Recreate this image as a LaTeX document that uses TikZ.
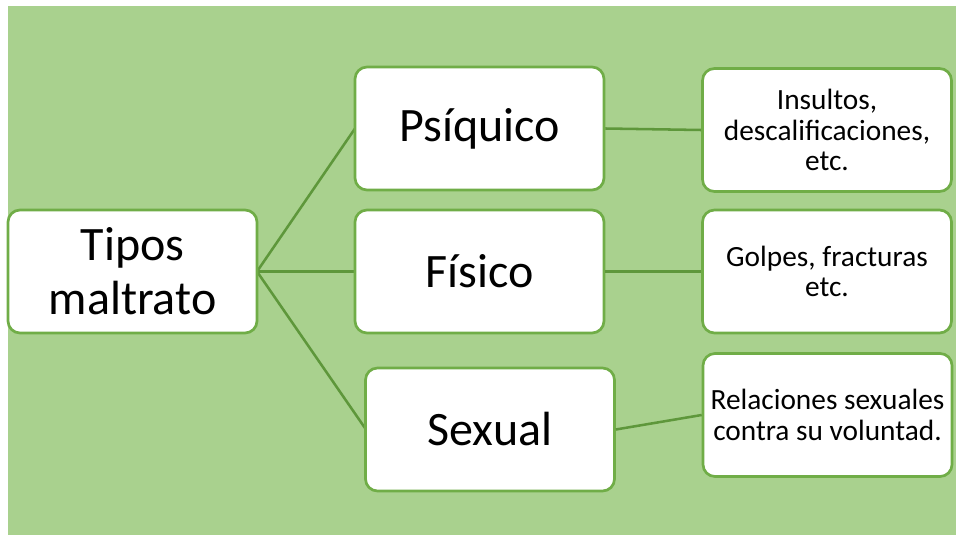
\documentclass[tikz,border=0pt]{standalone}
\usepackage{fontspec}
\setmainfont{Carlito}
\definecolor{bggreen}{HTML}{A9D18E}
\definecolor{boxgreen}{HTML}{70AD47}
\definecolor{linkgreen}{HTML}{5E973B}
\tikzset{
  typebox/.style={draw=boxgreen, line width=2pt, fill=white, rounded corners=9pt,
    minimum width=186.75pt, minimum height=92.25pt, inner sep=0pt, align=center,
    font=\fontsize{36}{40.5}\selectfont},
  notebox/.style={typebox, font=\fontsize{22}{23}\selectfont},
  link/.style={draw=linkgreen, line width=1.9pt}
}
\begin{document}
\begin{tikzpicture}[x=0.75pt,y=0.75pt,yscale=-1,xscale=1]
\useasboundingbox (0,0) rectangle (956,535);
\fill [bggreen] (8,6) rectangle (956,535);
% links
\coordinate (tiposE) at (257,271.5);
\coordinate (psiquicoW) at (355,128.5);
\coordinate (fisicoW) at (355,271.5);
\coordinate (sexualW) at (366,429.5);
\draw [link] (tiposE) -- (psiquicoW);
\draw [link] (tiposE) -- (fisicoW);
\draw [link] (tiposE) -- (sexualW);
% boxes
\node [typebox] (tipos) at (132.5,271.5) {Tipos\\maltrato};
\node [typebox] (psiquico) at (479.5,128.5) {Psíquico};
\node [typebox] (fisico) at (479.5,271.5) {Físico};
\node [typebox] (sexual) at (490,429.5) {Sexual};
\node [notebox] (insultos) at (827,130) {Insultos,\\descalificaciones,\\etc.};
\node [notebox] (golpes) at (827,271.5) {Golpes, fracturas\\etc.};
\node [notebox] (relaciones) at (827.5,415) {Relaciones sexuales\\contra su voluntad.};
\draw [link] (psiquico.east) -- (insultos.west);
\draw [link] (fisico.east) -- (golpes.west);
\draw [link] (sexual.east) -- (relaciones.west);
\end{tikzpicture}
\end{document}
